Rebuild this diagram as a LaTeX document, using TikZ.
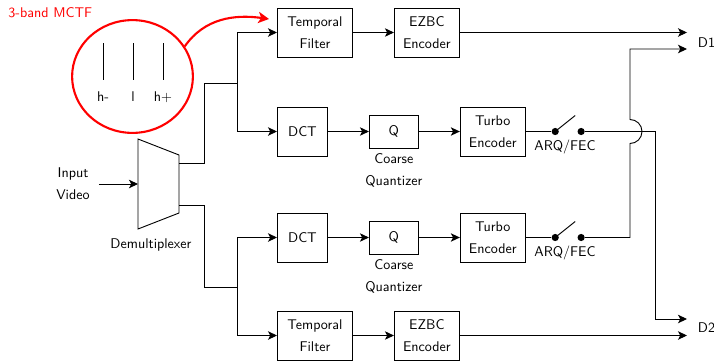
\documentclass[tikz,border=0pt]{standalone}
\usepackage{tikz}
\usetikzlibrary{arrows.meta,positioning,shapes.geometric}

\begin{document}
\begin{tikzpicture}[>={Stealth[length=6.4pt,width=6pt,inset=1.6pt]}, node distance=10.25mm,
  font=\sffamily, line width=0.65pt,
  box/.style={draw, align=center, minimum height=12.25mm, font=\sffamily\linespread{1.3}\selectfont},
  lbl/.style={align=center, font=\sffamily\linespread{1.3}\selectfont},
  sw/.style={circle, fill, inner sep=0pt, minimum size=1.8mm}]
\useasboundingbox (0,0) rectangle (17.85,-9);

% 3-band MCTF
\node[anchor=west, text=red] (mctftxt) at (0.08,-0.325) {3-band MCTF};
\node[draw=red, line width=1.5pt, ellipse, minimum width=3.02cm, minimum height=2.82cm] (mctf) at (3.3125,-1.9125) {};
\foreach \x/\b [count=\i] in {2.575/h-, 3.325/l, 4.075/h+} {
  \draw (\x,-1.075) -- (\x,-2.0);
  \node (band\i) at (\x,-2.425) {\b};
}
\coordinate (mctftip) at (6.725,-0.475);

% demultiplexer
\draw (3.45,-3.475) -- (4.475,-3.875) -- (4.475,-5.325) -- (3.45,-5.725) -- cycle;
\coordinate (dmin) at (3.45,-4.6);
\coordinate (dmo1) at (4.475,-4.075);
\coordinate (dmo2) at (4.475,-5.125);
\node (demux) at (3.775,-6.125) {Demultiplexer};
\node[lbl] (input) at (1.825,-4.6) {Input\\Video};

% upper branch
\node[box, minimum width=18.75mm, anchor=west] (tf1) at (6.925,-0.8125) {Temporal\\Filter};
\node[box, minimum width=16.25mm, right=of tf1] (ez1) {EZBC\\Encoder};
\node[box, minimum width=12.5mm, anchor=west] (dct1) at (6.925,-3.2875) {DCT};
\node[box, minimum width=12.25mm, minimum height=8.25mm, right=of dct1] (q1) {Q};
\node[lbl, below=0mm of q1] (cq1) {Coarse\\Quantizer};
\node[box, minimum width=16.25mm, right=of q1] (tb1) {Turbo\\Encoder};
\node[sw, right=6.35mm of tb1] (s1a) {};
\node[sw, right=4.45mm of s1a] (s1b) {};
\node (arq1) at (14.125,-3.675) {ARQ/FEC};

% lower branch
\node[box, minimum width=12.5mm, anchor=west] (dct2) at (6.925,-5.9375) {DCT};
\node[box, minimum width=12.25mm, minimum height=8.25mm, right=of dct2] (q2) {Q};
\node[lbl, below=0mm of q2] (cq2) {Coarse\\Quantizer};
\node[box, minimum width=16.25mm, right=of q2] (tb2) {Turbo\\Encoder};
\node[sw, right=6.35mm of tb2] (s2a) {};
\node[sw, right=4.45mm of s2a] (s2b) {};
\node (arq2) at (14.125,-6.325) {ARQ/FEC};
\node[box, minimum width=18.75mm, anchor=west] (tf2) at (6.925,-8.3875) {Temporal\\Filter};
\node[box, minimum width=16.25mm, right=of tf2] (ez2) {EZBC\\Encoder};

% outputs
\node[anchor=west] (d1) at (17.32,-1.075) {D1};
\node[anchor=west] (d2) at (17.32,-8.2) {D2};
\coordinate (d1a) at (17.175,-0.8125);
\coordinate (d1b) at (17.175,-1.225);
\coordinate (d2a) at (17.175,-7.975);
\coordinate (d2b) at (17.175,-8.3875);
\coordinate (sp1) at (5.925,-2.075);
\coordinate (sp2) at (5.925,-7.175);
\coordinate (j1) at (15.75,-5.9375);
\coordinate (j2) at (16.375,-7.975);

\draw[->] ([xshift=1mm]input.east) -- (dmin);
\draw (dmo1) -- ++(0.625,0) |- (sp1);
\draw (dmo2) -- ++(0.625,0) |- (sp2);
\draw[->] (sp1) |- (tf1);
\draw[->] (sp1) |- (dct1);
\draw[->] (sp2) |- (dct2);
\draw[->] (sp2) |- (tf2);

\draw[->] (tf1) -- (ez1);
\draw[->] (dct1) -- (q1);
\draw[->] (q1) -- (tb1);
\draw[->] (tf2) -- (ez2);
\draw[->] (dct2) -- (q2);
\draw[->] (q2) -- (tb2);

\draw (tb1) -- (s1a);
\draw (s1a.center) -- ++(0.5,0.4);
\draw (tb2) -- (s2a);
\draw (s2a.center) -- ++(0.5,0.4);

\draw[->] (ez1) -- (d1a);
\draw[->] (ez2) -- (d2b);
\draw[->] (s1b) -| (j2) -- (d2a);
\draw[->] (s2b) -- (j1) -- (15.75,-3.5875) arc[start angle=-90, end angle=90, radius=0.3] |- (d1b);

\draw[->, red, line width=1.5pt, >={Stealth[length=7.6pt,width=8pt,inset=2pt]}] (mctf.30) to[out=55, in=172] (mctftip);
\end{tikzpicture}
\end{document}
